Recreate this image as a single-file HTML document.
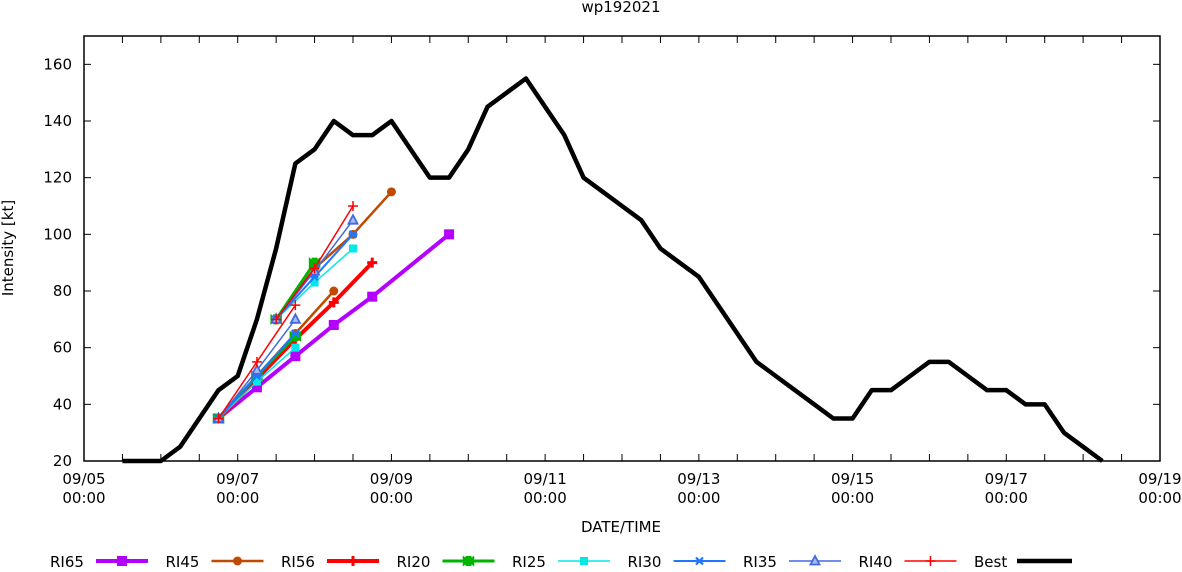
<!DOCTYPE html>
<html><head><meta charset="utf-8"><style>
body{margin:0;background:#fff}
svg text{font-family:"DejaVu Sans","Liberation Sans",sans-serif;font-size:15px;fill:#000}
</style></head><body>
<svg id="c" width="1182" height="567" xmlns="http://www.w3.org/2000/svg">
<text x="621" y="12" text-anchor="middle">wp192021</text>
<g id="grid"></g>
<g id="series"></g>
<rect x="84" y="36" width="1076" height="425" fill="none" stroke="#000" stroke-width="1.5"/>
<text x="621" y="532" text-anchor="middle">DATE/TIME</text>
<text transform="translate(13,248) rotate(-90)" text-anchor="middle">Intensity [kt]</text>
<g id="legend"></g>
</svg>
<script>
// data (hours since 09/05 00:00)
const bestHours=[12,24,30,36,42,48,54,60,66,72,78,84,90,96,102,108,114,120,126,132,138,144,150,156,162,168,174,180,186,192,198,204,210,216,222,228,234,240,246,252,258,264,270,276,282,288,294,300,306,312,318];
const bestVals=[20,20,25,35,45,50,70,95,125,130,140,135,135,140,130,120,120,130,145,150,155,145,135,120,115,110,105,95,90,85,75,65,55,50,45,40,35,35,45,45,50,55,55,50,45,45,40,40,30,25,20];
const yTicks=[20,40,60,80,100,120,140,160];
const xLabelDays=[0,2,4,6,8,10,12,14];
const xLabelText=["09/05","09/07","09/09","09/11","09/13","09/15","09/17","09/19"];
const seriesNames=["RI65","RI45","RI56","RI20","RI25","RI30","RI35","RI40","Best"];
// forecast runs
const run1Hours=[42,54,66,78,90,114];
const run2Hours=[60,72,84,96];
const ri65Run1=[35,46,57,68,78,100];
const ri45Run1=[35,50,65,80];
const ri45Run2=[70,88,100,115];
const ri56Run1=[35,49,63,76,90];
const ri20Run1=[35,50,64];
const ri20Run2=[70,90];
const ri25Run1=[35,48,60];
const ri25Run2=[70,83,95];
const ri30Run1=[35,50,65];
const ri30Run2=[70,85,100];
const ri35Run1=[35,52,70];
const ri35Run2=[70,87,105];
const ri40Run1=[35,55,75];
const ri40Run2=[70,88,110];

const NS="http://www.w3.org/2000/svg";
const X=h=>84+h*(1076/336);
const Y=v=>461-(v-20)*(425/150);
function mk(t,a,p){const e=document.createElementNS(NS,t);for(const k in a)e.setAttribute(k,a[k]);p.appendChild(e);return e;}
const grid=document.getElementById('grid');
yTicks.forEach(v=>{
  const y=Y(v);
  const t=mk('line',{x1:84,x2:91,y1:y,y2:y,stroke:'#000'},grid);
  
  
  mk('line',{x1:1153,x2:1160,y1:y,y2:y,stroke:'#000'},grid);
  const l=mk('text',{x:72,y:y+5,'text-anchor':'end'},grid);l.textContent=v;
  
  
});
for(let h=12;h<336;h+=12){const x=X(h);
  mk('line',{x1:x,x2:x,y1:461,y2:454,stroke:'#000'},grid);
  mk('line',{x1:x,x2:x,y1:36,y2:43,stroke:'#000'},grid);}
xLabelDays.forEach((d,i)=>{const x=X(d*24);
  const t=mk('text',{x:x,y:484,'text-anchor':'middle'},grid);t.textContent=xLabelText[i];
  
  
  const t2=mk('text',{x:x,y:503,'text-anchor':'middle'},grid);t2.textContent='00:00';
  
  
});
const S=document.getElementById('series');
function marker(kind,x,y,col,p){
  if(kind==='sq')mk('rect',{x:x-5,y:y-5,width:10,height:10,fill:col},p);
  else if(kind==='sqs')mk('rect',{x:x-4,y:y-4,width:8,height:8,fill:col},p);
  else if(kind==='dot')mk('circle',{cx:x,cy:y,r:4.5,fill:col},p);
  else if(kind==='plus'){mk('path',{d:`M${x-5} ${y}H${x+5}M${x} ${y-5}V${y+5}`,stroke:col,'stroke-width':3},p);}
  else if(kind==='plusT'){mk('path',{d:`M${x-5} ${y}H${x+5}M${x} ${y-5}V${y+5}`,stroke:col,'stroke-width':1.5},p);}
  else if(kind==='bow'){mk('path',{d:`M${x-5} ${y-4}L${x+5} ${y+4}V${y-4}L${x-5} ${y+4}Z`,fill:col,stroke:col,'stroke-width':1.5},p);mk('rect',{x:x-3,y:y-5,width:6,height:10,fill:col},p);}
  else if(kind==='x'){mk('path',{d:`M${x-3.5} ${y-3.5}L${x+3.5} ${y+3.5}M${x+3.5} ${y-3.5}L${x-3.5} ${y+3.5}M${x-4} ${y}H${x+4}`,stroke:col,'stroke-width':2.2},p);}
  else if(kind==='tri'){mk('path',{d:`M${x} ${y-5}L${x+4.5} ${y+3.5}L${x-4.5} ${y+3.5}Z`,fill:'#a9bbf0',stroke:col,'stroke-width':1.8},p);}
}
function line(name,hours,vals,col,w,kind){
  const g=mk('g',{},S);
  
  
  const pts=vals.map((v,i)=>X(hours[i])+','+Y(v)).join(' ');
  mk('polyline',{points:pts,fill:'none',stroke:col,'stroke-width':w,'stroke-linejoin':'round'},g);
  if(kind)vals.forEach((v,i)=>marker(kind,X(hours[i]),Y(v),col,g));
}
const sty={RI65:['#b400ff',4,'sq'],RI45:['#c04a00',2.5,'dot'],RI56:['#ff0000',4,'plus'],RI20:['#00b400',3,'bow'],RI25:['#00e8e8',1.5,'sqs'],RI30:['#1e78ff',2,'x'],RI35:['#4169e1',1.5,'tri'],RI40:['#ff0000',1.5,'plusT']};
line('best-track',bestHours,bestVals,'#000',4.5,null);
line('ri65-run1',run1Hours,ri65Run1,...sty.RI65);
line('ri45-run1',run1Hours,ri45Run1,...sty.RI45);
line('ri45-run2',run2Hours,ri45Run2,...sty.RI45);
line('ri56-run1',run1Hours,ri56Run1,...sty.RI56);
line('ri20-run1',run1Hours,ri20Run1,...sty.RI20);
line('ri20-run2',run2Hours,ri20Run2,...sty.RI20);
line('ri25-run1',run1Hours,ri25Run1,...sty.RI25);
line('ri25-run2',run2Hours,ri25Run2,...sty.RI25);
line('ri30-run1',run1Hours,ri30Run1,...sty.RI30);
line('ri30-run2',run2Hours,ri30Run2,...sty.RI30);
line('ri35-run1',run1Hours,ri35Run1,...sty.RI35);
line('ri35-run2',run2Hours,ri35Run2,...sty.RI35);
line('ri40-run1',run1Hours,ri40Run1,...sty.RI40);
line('ri40-run2',run2Hours,ri40Run2,...sty.RI40);
const L=document.getElementById('legend');
seriesNames.forEach((n,i)=>{
  const g=mk('g',{},L);
  
  
  const x0=50+i*115.5;
  const t=mk('text',{x:x0,y:567},g);t.textContent=n;
  const lx=x0+46;
  if(n==='Best'){mk('line',{x1:lx-3,x2:lx+52,y1:561,y2:561,stroke:'#000','stroke-width':4.5},g);return;}
  const [col,w,k]=sty[n];
  mk('line',{x1:lx,x2:lx+52,y1:561,y2:561,stroke:col,'stroke-width':w},g);
  marker(k,lx+26,561,col,g);
});
</script>
</body></html>
